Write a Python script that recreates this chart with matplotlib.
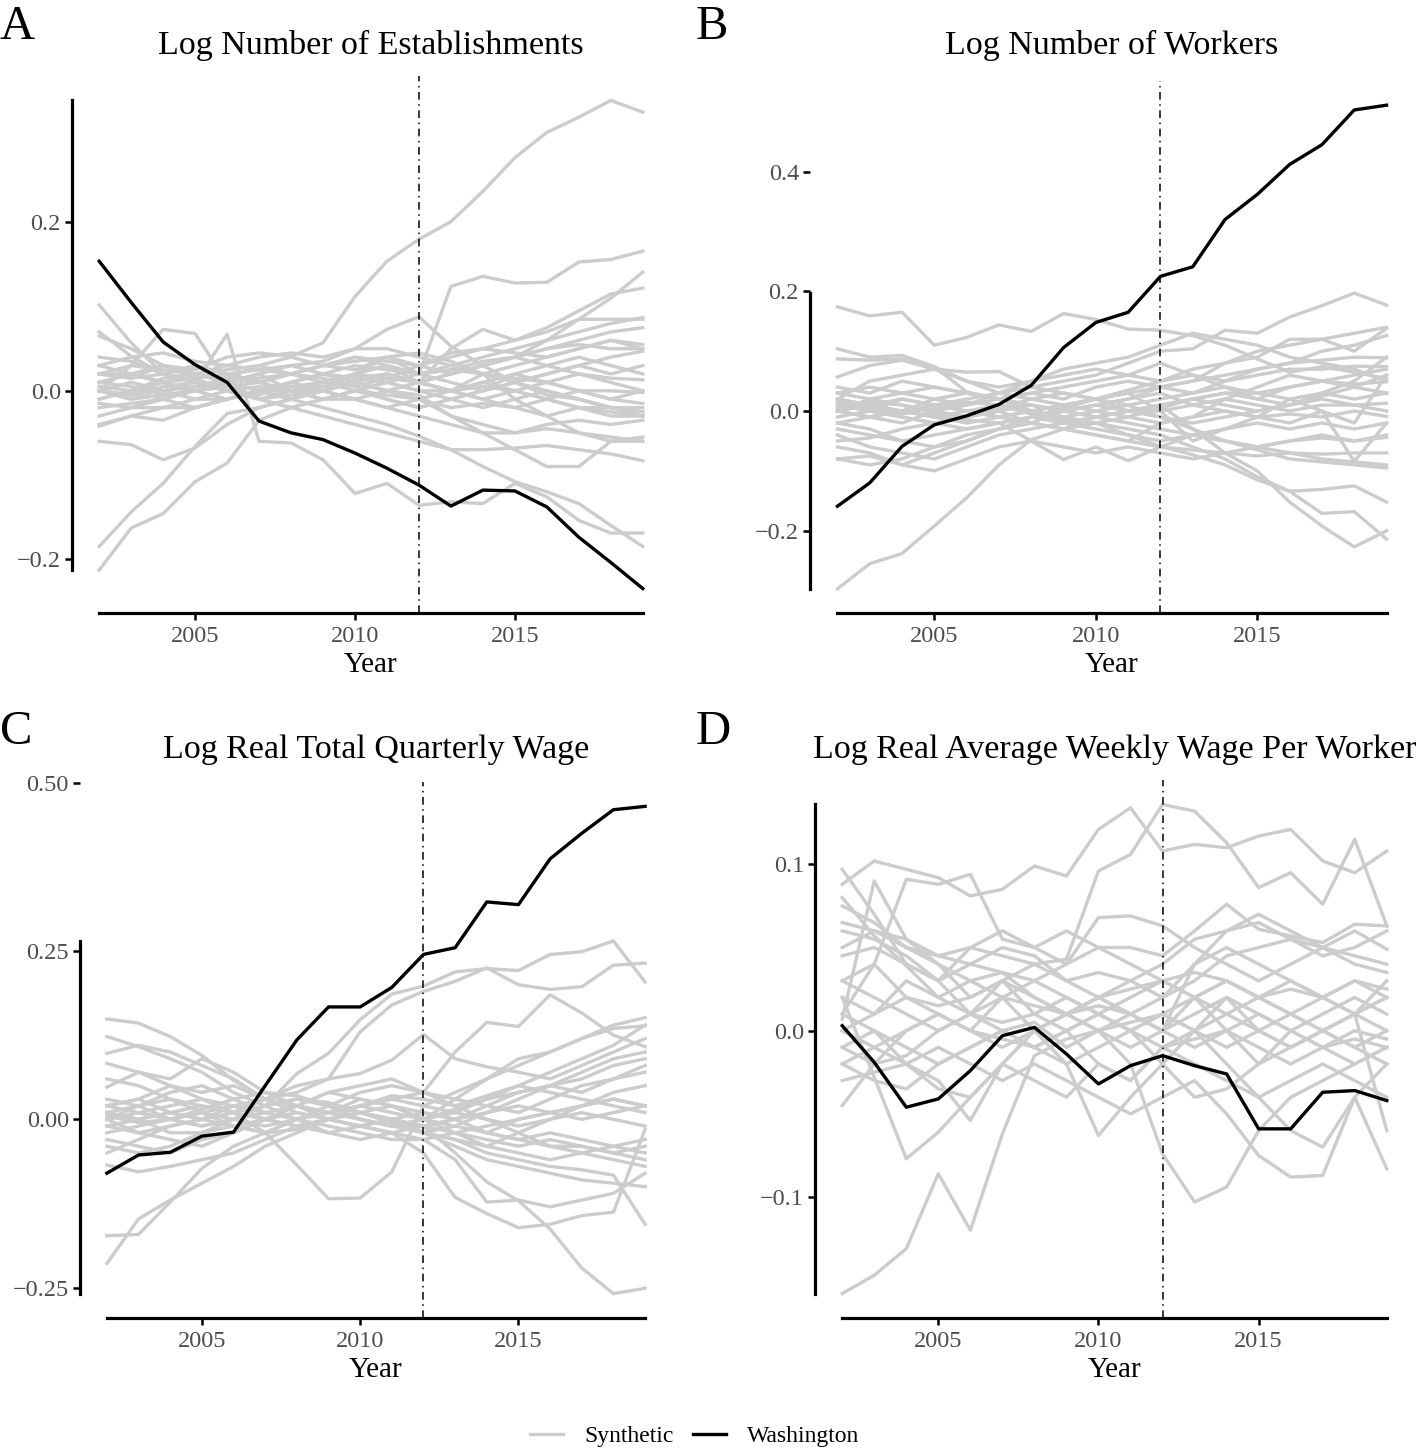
import numpy as np
import matplotlib
matplotlib.use("Agg")
import matplotlib.pyplot as plt
from matplotlib.lines import Line2D

plt.rcParams["font.family"] = ["Liberation Serif", "DejaVu Serif"]

years = list(range(2002, 2020))
treat_year = 2012

titles = ["Log Number of Establishments", "Log Number of Workers",
          "Log Real Total Quarterly Wage", "Log Real Average Weekly Wage Per Worker"]
letters = ["A", "B", "C", "D"]
yticks = [[-0.2, 0.0, 0.2], [-0.2, 0.0, 0.2, 0.4],
          [-0.25, 0.0, 0.25, 0.5], [-0.1, 0.0, 0.1]]

# Washington (treated) series
estab_wa = [0.154, 0.105, 0.058, 0.031, 0.01, -0.036, -0.05, -0.058, -0.074, -0.092,
            -0.112, -0.137, -0.118, -0.119, -0.138, -0.174, -0.204, -0.235]
workers_wa = [-0.159, -0.12, -0.059, -0.023, -0.008, 0.011, 0.043, 0.106, 0.148, 0.165,
              0.225, 0.241, 0.32, 0.362, 0.412, 0.445, 0.503, 0.511]
totwage_wa = [-0.08, -0.053, -0.049, -0.025, -0.019, 0.05, 0.118, 0.167, 0.167, 0.196,
              0.245, 0.255, 0.323, 0.319, 0.387, 0.425, 0.46, 0.465]
weekwage_wa = [0.003, -0.019, -0.046, -0.041, -0.024, -0.003, 0.002, -0.014, -0.032, -0.021,
               -0.015, -0.021, -0.026, -0.059, -0.059, -0.037, -0.036, -0.042]

# placebo / synthetic series (approximate)
estab_synth = [
    [0.02, 0.015, 0.03, 0.025, 0.04, 0.045, 0.041, 0.057, 0.112, 0.154, 0.18, 0.201, 0.237, 0.277, 0.307, 0.325, 0.345, 0.331],
    [0.0, 0.01, 0.0, 0.005, 0.01, 0.0, 0.01, 0.02, 0.03, 0.025, 0.02, 0.124, 0.136, 0.128, 0.129, 0.153, 0.156, 0.166],
    [0.03, 0.04, 0.045, 0.035, 0.03, 0.025, 0.03, 0.035, 0.05, 0.073, 0.088, 0.053, 0.03, 0.01, -0.005, -0.01, -0.02, -0.025],
    [0.0, -0.01, 0.005, 0.01, 0.0, -0.005, 0.01, 0.02, 0.015, 0.02, 0.01, 0.02, 0.03, 0.04, 0.06, 0.085, 0.11, 0.141],
    [0.02, 0.015, 0.02, 0.03, 0.02, 0.025, 0.02, 0.03, 0.04, 0.035, 0.03, 0.045, 0.05, 0.06, 0.075, 0.095, 0.115, 0.122],
    [-0.01, 0.0, 0.01, 0.0, 0.005, 0.01, 0.0, 0.01, 0.02, 0.03, 0.01, 0.05, 0.073, 0.06, 0.07, 0.085, 0.085, 0.085],
    [0.01, 0.005, -0.005, 0.0, 0.01, 0.02, 0.03, 0.02, 0.015, 0.01, 0.02, 0.025, 0.035, 0.04, 0.05, 0.06, 0.07, 0.075],
    [-0.02, -0.015, -0.01, 0.0, -0.01, 0.0, 0.01, 0.0, 0.01, 0.02, 0.01, 0.02, 0.03, 0.04, 0.05, 0.055, 0.05, 0.05],
    [0.02, 0.03, 0.025, 0.02, 0.015, 0.03, 0.04, 0.03, 0.035, 0.04, 0.02, 0.01, 0.0, 0.01, 0.02, 0.03, 0.04, 0.047],
    [0.0, -0.005, 0.01, 0.015, 0.02, 0.01, 0.0, 0.01, 0.02, 0.03, 0.02, 0.025, 0.02, 0.015, 0.01, 0.02, 0.015, 0.013],
    [-0.03, -0.02, -0.02, -0.01, -0.01, 0.0, 0.0, -0.01, 0.0, 0.01, 0.0, 0.0, 0.01, 0.0, -0.01, 0.0, 0.0, -0.002],
    [0.01, 0.02, 0.01, 0.0, 0.005, -0.01, -0.02, -0.01, 0.0, -0.005, -0.01, -0.02, -0.015, -0.02, -0.01, -0.02, -0.02, -0.025],
    [-0.01, 0.0, -0.01, -0.02, -0.01, 0.0, 0.01, 0.02, 0.01, 0.0, 0.01, 0.0, -0.01, -0.02, -0.03, -0.02, -0.03, -0.03],
    [0.03, 0.02, 0.01, 0.0, 0.01, 0.02, 0.0, -0.01, -0.01, -0.02, -0.01, -0.03, -0.04, -0.05, -0.04, -0.035, -0.04, -0.035],
    [0.0, 0.01, 0.0, -0.01, 0.0, 0.005, 0.0, 0.005, 0.01, 0.0, -0.005, -0.03, -0.05, -0.07, -0.09, -0.09, -0.06, -0.055],
    [-0.04, -0.03, -0.02, -0.02, -0.01, 0.0, 0.0, 0.0, -0.01, -0.02, -0.03, -0.04, -0.05, -0.05, -0.045, -0.05, -0.055, -0.06],
    [0.0, -0.01, -0.005, 0.0, 0.01, -0.01, -0.02, -0.03, -0.04, -0.05, -0.06, -0.07, -0.07, -0.068, -0.065, -0.07, -0.075, -0.083],
    [0.0, -0.005, 0.0, 0.01, 0.067, -0.06, -0.062, -0.082, -0.122, -0.11, -0.136, -0.132, -0.134, -0.11, -0.126, -0.154, -0.169, -0.169],
    [0.01, 0.02, 0.01, 0.02, 0.01, 0.0, -0.01, -0.02, -0.03, -0.04, -0.054, -0.07, -0.09, -0.108, -0.12, -0.134, -0.16, -0.185],
    [-0.213, -0.163, -0.146, -0.108, -0.086, -0.035, -0.02, -0.01, 0.0, 0.01, 0.0, -0.01, -0.02, -0.01, 0.0, -0.01, -0.02, -0.03],
    [-0.185, -0.144, -0.11, -0.066, -0.027, -0.02, -0.01, 0.0, 0.01, 0.02, 0.01, 0.0, 0.02, 0.03, 0.04, 0.05, 0.06, 0.05],
    [0.102, 0.057, 0.02, 0.01, 0.0, -0.01, 0.0, 0.01, 0.0, -0.01, -0.02, -0.01, 0.0, 0.01, 0.0, -0.01, -0.02, -0.02],
    [0.07, 0.041, 0.02, 0.03, 0.02, 0.01, 0.02, 0.03, 0.04, 0.03, 0.02, 0.03, 0.02, 0.01, 0.02, 0.03, 0.02, 0.03],
    [0.0, 0.03, 0.073, 0.068, 0.01, 0.0, -0.01, 0.0, 0.01, 0.0, -0.01, 0.0, 0.01, 0.02, 0.01, 0.0, -0.01, 0.0],
    [-0.06, -0.064, -0.082, -0.068, -0.04, -0.02, -0.01, 0.0, -0.01, 0.0, 0.01, 0.0, -0.01, 0.0, 0.01, 0.0, -0.01, -0.015],
    [-0.042, -0.03, -0.035, -0.02, -0.01, 0.0, 0.005, 0.01, 0.02, 0.015, 0.01, 0.0, 0.005, 0.0, -0.01, -0.02, -0.025, -0.03],
    [0.065, 0.05, 0.03, 0.02, 0.01, 0.015, 0.02, 0.03, 0.025, 0.04, 0.03, 0.02, 0.03, 0.04, 0.03, 0.02, 0.01, 0.0],
    [0.02, 0.02, 0.03, 0.02, 0.03, 0.04, 0.045, 0.04, 0.05, 0.05, 0.04, 0.03, 0.04, 0.05, 0.06, 0.07, 0.08, 0.087],
    [-0.015, -0.02, -0.01, 0.005, 0.015, 0.01, 0.02, 0.015, 0.005, -0.01, -0.02, -0.01, 0.0, 0.02, 0.03, 0.04, 0.03, 0.02],
    [0.04, 0.035, 0.02, 0.015, 0.0, -0.01, -0.005, 0.0, 0.02, 0.04, 0.045, 0.035, 0.02, -0.01, -0.03, -0.05, -0.06, -0.06],
    [0.005, 0.0, 0.015, 0.02, 0.025, 0.03, 0.02, 0.01, 0.005, 0.015, 0.03, 0.04, 0.05, 0.045, 0.04, 0.05, 0.06, 0.055],
]

workers_synth = [
    [0.174, 0.159, 0.165, 0.11, 0.123, 0.144, 0.133, 0.163, 0.153, 0.137, 0.135, 0.126, 0.11, 0.087, 0.065, 0.074, 0.065, 0.054],
    [-0.297, -0.255, -0.238, -0.192, -0.145, -0.09, -0.048, -0.03, -0.01, 0.0, 0.01, 0.02, 0.03, 0.02, 0.04, 0.05, 0.06, 0.07],
    [0.0, 0.01, 0.02, 0.01, 0.02, 0.03, 0.04, 0.05, 0.06, 0.08, 0.1, 0.104, 0.135, 0.13, 0.157, 0.176, 0.197, 0.177],
    [0.02, 0.01, 0.0, -0.01, 0.0, 0.01, 0.0, -0.01, -0.02, -0.04, -0.059, -0.073, -0.09, -0.115, -0.134, -0.131, -0.125, -0.152],
    [0.0, -0.01, 0.0, 0.01, 0.0, -0.01, -0.02, -0.03, -0.02, -0.03, -0.04, -0.06, -0.08, -0.11, -0.134, -0.171, -0.168, -0.214],
    [0.01, 0.0, -0.01, -0.02, -0.01, 0.0, 0.01, 0.0, -0.01, 0.0, 0.01, -0.03, -0.07, -0.1, -0.152, -0.192, -0.227, -0.2],
    [0.03, 0.02, 0.03, 0.04, 0.03, 0.02, 0.01, 0.0, 0.01, 0.02, 0.03, 0.01, 0.0, -0.01, -0.02, 0.0, -0.084, -0.02],
    [-0.03, -0.04, -0.05, -0.04, -0.03, -0.02, -0.05, -0.081, -0.06, -0.083, -0.06, -0.04, -0.05, -0.06, -0.05, -0.04, -0.05, -0.04],
    [0.104, 0.09, 0.093, 0.074, 0.032, 0.02, 0.01, 0.0, -0.01, -0.02, -0.03, -0.04, -0.05, -0.06, -0.07, -0.08, -0.085, -0.09],
    [0.087, 0.085, 0.087, 0.074, 0.05, 0.03, 0.02, 0.01, 0.02, 0.0, -0.01, -0.02, -0.01, 0.0, 0.01, 0.02, 0.01, 0.0],
    [0.057, 0.076, 0.085, 0.07, 0.05, 0.04, 0.05, 0.06, 0.07, 0.06, 0.05, 0.07, 0.08, 0.1, 0.11, 0.12, 0.13, 0.14],
    [0.02, 0.05, 0.06, 0.07, 0.065, 0.066, 0.04, 0.03, 0.02, 0.03, 0.04, 0.05, 0.06, 0.07, 0.08, 0.1, 0.11, 0.126],
    [0.0, -0.01, -0.02, 0.0, 0.01, 0.02, 0.03, 0.04, 0.05, 0.06, 0.08, 0.06, 0.05, 0.07, 0.08, 0.085, 0.09, 0.089],
    [-0.02, -0.03, -0.05, -0.06, -0.05, -0.03, -0.01, 0.0, 0.01, 0.02, 0.04, 0.03, 0.05, 0.06, 0.07, 0.07, 0.075, 0.074],
    [-0.04, -0.06, -0.07, -0.08, -0.06, -0.04, -0.03, -0.02, -0.01, 0.0, 0.01, 0.02, 0.03, 0.03, 0.04, 0.05, 0.045, 0.049],
    [-0.08, -0.075, -0.09, -0.07, -0.05, -0.03, -0.02, 0.0, 0.01, 0.0, 0.0, 0.01, 0.02, 0.01, 0.0, 0.01, 0.01, 0.013],
    [0.01, 0.0, 0.02, 0.01, 0.0, -0.01, 0.0, 0.01, 0.0, -0.01, -0.02, -0.01, 0.0, -0.01, -0.005, -0.01, 0.0, -0.009],
    [-0.01, 0.0, -0.01, -0.02, -0.03, -0.02, -0.01, -0.02, -0.03, -0.04, -0.05, -0.04, -0.03, -0.02, -0.03, -0.02, -0.03, -0.02],
    [0.0, 0.02, 0.01, 0.0, -0.01, 0.0, -0.02, -0.03, -0.04, -0.05, -0.06, -0.065, -0.07, -0.06, -0.05, -0.045, -0.05, -0.044],
    [-0.06, -0.07, -0.09, -0.1, -0.08, -0.06, -0.05, -0.06, -0.07, -0.06, -0.07, -0.08, -0.07, -0.075, -0.07, -0.072, -0.07, -0.07],
    [-0.08, -0.09, -0.08, -0.06, -0.04, -0.03, -0.02, -0.03, -0.04, -0.05, -0.02, -0.01, 0.02, 0.04, 0.06, 0.05, 0.04, 0.06],
    [0.03, 0.04, 0.03, 0.02, 0.01, 0.03, 0.05, 0.07, 0.08, 0.09, 0.11, 0.13, 0.12, 0.11, 0.09, 0.08, 0.07, 0.05],
    [0.04, 0.03, 0.05, 0.04, 0.03, 0.02, 0.03, 0.02, 0.04, 0.05, 0.04, 0.05, 0.08, 0.09, 0.12, 0.12, 0.1, 0.138],
    [-0.02, -0.01, 0.0, -0.01, -0.02, -0.01, 0.0, 0.01, 0.02, 0.03, 0.0, -0.05, -0.03, -0.01, 0.02, 0.03, 0.02, 0.03],
    [0.02, 0.01, 0.0, 0.02, 0.03, 0.02, 0.0, -0.01, 0.0, 0.01, 0.02, 0.03, 0.04, 0.03, 0.02, 0.0, -0.02, 0.06],
    [0.005, 0.015, 0.01, -0.005, -0.015, -0.02, -0.01, 0.005, 0.02, 0.035, 0.05, 0.06, 0.04, 0.02, 0.01, 0.03, 0.05, 0.09],
    [-0.05, -0.045, -0.03, -0.02, -0.01, 0.005, 0.02, 0.03, 0.02, 0.01, -0.01, -0.03, -0.05, -0.065, -0.08, -0.085, -0.09, -0.095],
    [0.015, 0.005, -0.005, 0.005, 0.015, 0.01, -0.005, -0.015, -0.02, -0.01, 0.005, 0.02, 0.01, 0.0, 0.01, 0.025, 0.04, 0.03],
]

totwage_synth = [
    [0.0, 0.01, 0.0, -0.01, 0.0, 0.02, 0.068, 0.098, 0.148, 0.186, 0.198, 0.219, 0.224, 0.221, 0.245, 0.249, 0.265, 0.204],
    [0.01, 0.0, 0.01, 0.02, 0.01, 0.03, 0.04, 0.06, 0.13, 0.17, 0.19, 0.205, 0.225, 0.2, 0.193, 0.197, 0.229, 0.232],
    [-0.02, -0.01, 0.0, 0.01, 0.0, -0.01, 0.0, 0.01, 0.02, 0.03, 0.04, 0.1, 0.144, 0.138, 0.185, 0.158, 0.125, 0.108],
    [0.02, 0.03, 0.01, 0.0, 0.01, 0.03, 0.05, 0.06, 0.068, 0.088, 0.126, 0.09, 0.078, 0.07, 0.06, 0.08, 0.1, 0.12],
    [0.0, -0.02, -0.01, 0.0, 0.02, 0.03, 0.02, 0.01, 0.02, 0.01, 0.0, 0.03, 0.06, 0.09, 0.1, 0.12, 0.14, 0.151],
    [0.01, 0.02, 0.03, 0.02, 0.01, 0.0, -0.01, 0.0, 0.01, 0.0, -0.01, -0.05, -0.093, -0.121, -0.163, -0.221, -0.259, -0.251],
    [0.03, 0.02, 0.0, -0.01, 0.0, 0.01, 0.02, 0.01, 0.0, -0.01, -0.02, -0.03, -0.05, -0.06, -0.07, -0.075, -0.083, -0.156],
    [0.0, 0.01, 0.02, 0.03, 0.01, -0.02, -0.068, -0.118, -0.117, -0.078, 0.02, 0.01, 0.0, -0.01, 0.0, 0.01, 0.0, -0.01],
    [-0.01, 0.0, 0.01, 0.0, -0.01, 0.0, 0.01, 0.0, -0.01, -0.02, -0.05, -0.116, -0.14, -0.161, -0.156, -0.143, -0.138, -0.015],
    [0.02, 0.01, 0.0, 0.01, 0.02, 0.01, 0.0, -0.01, -0.02, -0.03, -0.03, -0.06, -0.123, -0.12, -0.13, -0.12, -0.11, -0.08],
    [-0.214, -0.148, -0.12, -0.095, -0.07, -0.04, -0.02, 0.0, 0.01, 0.02, 0.0, -0.01, -0.02, 0.0, 0.01, 0.02, 0.03, 0.02],
    [-0.173, -0.171, -0.123, -0.073, -0.04, -0.02, 0.0, 0.01, 0.0, -0.01, 0.0, 0.01, 0.03, 0.04, 0.05, 0.04, 0.06, 0.07],
    [0.149, 0.143, 0.123, 0.095, 0.058, 0.03, 0.01, 0.0, -0.01, 0.0, 0.01, 0.0, -0.02, -0.03, -0.04, -0.05, -0.04, -0.05],
    [0.123, 0.108, 0.09, 0.07, 0.04, 0.02, 0.0, -0.02, -0.03, -0.02, -0.01, 0.0, 0.01, 0.02, 0.01, 0.0, 0.01, 0.02],
    [0.098, 0.11, 0.1, 0.08, 0.06, 0.03, 0.02, 0.01, 0.02, 0.03, 0.02, 0.04, 0.06, 0.08, 0.1, 0.12, 0.135, 0.139],
    [0.083, 0.07, 0.06, 0.09, 0.07, 0.04, 0.02, 0.04, 0.05, 0.06, 0.04, 0.03, 0.02, 0.04, 0.05, 0.06, 0.08, 0.09],
    [0.048, 0.07, 0.05, 0.03, 0.02, 0.0, -0.01, -0.02, -0.01, 0.0, -0.02, -0.03, -0.04, -0.02, 0.0, 0.02, 0.03, 0.02],
    [-0.068, -0.078, -0.07, -0.06, -0.05, -0.03, -0.01, 0.0, 0.01, 0.0, -0.01, -0.02, -0.04, -0.05, -0.06, -0.05, -0.06, -0.07],
    [-0.03, -0.04, -0.05, -0.03, -0.02, 0.0, 0.02, 0.01, 0.03, 0.02, 0.0, -0.02, -0.01, 0.0, 0.01, 0.02, 0.04, 0.05],
    [0.0, 0.02, 0.04, 0.05, 0.03, 0.01, 0.0, 0.02, 0.01, 0.0, -0.02, -0.01, 0.01, 0.03, 0.05, 0.07, 0.09, 0.1],
    [-0.01, -0.02, -0.03, -0.04, -0.02, 0.0, 0.02, 0.04, 0.03, 0.02, 0.01, 0.0, -0.02, -0.03, -0.02, -0.03, -0.04, -0.03],
    [0.01, 0.0, -0.02, -0.02, 0.0, 0.02, 0.03, 0.02, 0.0, -0.01, -0.01, 0.0, 0.02, 0.01, 0.03, 0.05, 0.06, 0.08],
    [-0.04, -0.05, -0.04, -0.02, -0.01, -0.02, 0.0, 0.02, 0.04, 0.05, 0.04, 0.02, 0.0, -0.02, -0.04, -0.04, -0.05, -0.06],
    [0.02, 0.03, 0.05, 0.04, 0.05, 0.03, 0.02, 0.0, -0.01, -0.02, -0.03, -0.02, -0.03, -0.04, -0.03, -0.04, -0.05, -0.04],
    [0.06, 0.05, 0.03, 0.01, -0.01, -0.02, -0.015, 0.0, 0.02, 0.035, 0.03, 0.02, 0.035, 0.05, 0.04, 0.03, 0.02, 0.01],
    [-0.05, -0.03, -0.01, 0.0, 0.01, 0.02, 0.03, 0.025, 0.01, -0.005, -0.02, -0.04, -0.06, -0.07, -0.08, -0.09, -0.095, -0.1],
    [0.005, -0.005, 0.0, 0.015, 0.03, 0.04, 0.035, 0.02, 0.0, -0.01, 0.0, 0.015, 0.03, 0.05, 0.07, 0.09, 0.11, 0.14],
]

weekwage_synth = [
    [-0.158, -0.147, -0.131, -0.086, -0.12, -0.062, -0.015, -0.005, 0.0, 0.005, 0.01, 0.0, -0.01, 0.0, 0.01, 0.0, -0.01, 0.0],
    [0.088, 0.102, 0.097, 0.092, 0.081, 0.085, 0.099, 0.093, 0.121, 0.134, 0.108, 0.112, 0.11, 0.117, 0.121, 0.102, 0.095, 0.108],
    [0.02, 0.01, 0.03, 0.02, 0.01, 0.03, 0.04, 0.043, 0.096, 0.106, 0.136, 0.132, 0.113, 0.086, 0.095, 0.076, 0.115, 0.063],
    [0.097, 0.07, 0.04, 0.03, 0.01, 0.0, 0.005, -0.01, 0.0, 0.01, 0.0, -0.01, 0.0, 0.01, 0.0, -0.01, 0.0, -0.005],
    [0.007, 0.09, 0.055, 0.04, 0.02, 0.03, 0.01, 0.0, -0.02, -0.03, -0.01, 0.0, 0.02, 0.01, 0.0, -0.01, -0.02, -0.01],
    [0.08, 0.057, 0.039, 0.02, 0.03, 0.035, 0.02, 0.01, 0.015, 0.01, 0.02, 0.04, 0.05, 0.04, 0.03, 0.02, 0.03, 0.025],
    [0.01, 0.04, 0.091, 0.088, 0.094, 0.055, 0.05, 0.06, 0.05, 0.04, 0.03, 0.02, 0.01, 0.0, -0.01, 0.0, 0.01, 0.0],
    [0.0, 0.01, 0.02, 0.01, 0.0, 0.02, 0.03, 0.04, 0.05, 0.05, 0.045, 0.06, 0.076, 0.061, 0.057, 0.053, 0.064, 0.063],
    [0.05, 0.06, 0.055, 0.045, 0.05, 0.06, 0.05, 0.04, 0.068, 0.069, 0.063, 0.05, 0.04, 0.03, 0.04, 0.05, 0.06, 0.049],
    [-0.02, -0.01, 0.0, 0.01, 0.0, -0.01, 0.0, 0.01, 0.0, -0.02, -0.074, -0.103, -0.094, -0.06, -0.04, -0.03, -0.02, -0.01],
    [0.0, -0.01, -0.02, -0.01, -0.02, -0.03, -0.02, -0.03, -0.04, -0.05, -0.04, -0.03, -0.05, -0.075, -0.088, -0.087, -0.04, -0.02],
    [0.01, 0.0, -0.01, -0.02, -0.01, 0.0, -0.01, -0.02, -0.01, 0.0, 0.01, 0.0, -0.02, -0.04, -0.06, -0.07, -0.04, -0.083],
    [0.02, -0.028, -0.077, -0.061, -0.04, -0.02, 0.0, 0.01, 0.02, 0.01, 0.0, 0.01, 0.02, 0.0, -0.01, 0.0, 0.01, 0.02],
    [-0.01, 0.0, -0.02, -0.03, -0.054, -0.02, 0.0, 0.01, 0.0, -0.01, 0.0, 0.02, 0.03, 0.02, 0.01, 0.0, -0.01, -0.02],
    [0.03, 0.02, 0.01, 0.0, 0.01, 0.02, 0.0, -0.02, -0.063, -0.04, -0.02, 0.0, 0.01, 0.02, 0.03, 0.02, 0.01, -0.06],
    [0.065, 0.06, 0.05, 0.045, 0.04, 0.035, 0.03, 0.02, 0.01, 0.0, 0.01, 0.02, 0.03, 0.02, 0.01, 0.02, 0.01, 0.03],
    [0.045, 0.05, 0.04, 0.03, 0.05, 0.045, 0.04, 0.03, 0.035, 0.03, 0.02, 0.03, 0.045, 0.05, 0.055, 0.05, 0.045, 0.04],
    [-0.03, -0.025, -0.02, -0.035, -0.04, -0.02, -0.03, -0.04, -0.02, -0.03, -0.01, -0.02, -0.03, -0.04, -0.03, -0.02, -0.03, -0.04],
    [0.03, 0.04, 0.02, 0.015, 0.02, 0.03, 0.02, 0.01, 0.02, 0.025, 0.03, 0.035, 0.03, 0.02, 0.025, 0.02, 0.03, 0.02],
    [-0.01, -0.02, -0.015, 0.0, 0.01, 0.005, 0.01, 0.02, 0.01, 0.0, -0.01, -0.005, 0.0, -0.01, -0.02, -0.01, -0.005, -0.01],
    [0.06, 0.055, 0.045, 0.03, 0.04, 0.05, 0.045, 0.03, 0.02, 0.01, 0.0, 0.04, 0.06, 0.07, 0.06, 0.05, 0.04, 0.035],
    [-0.02, -0.03, -0.035, -0.02, -0.01, 0.0, -0.01, 0.0, 0.01, 0.0, -0.02, -0.04, -0.035, -0.02, 0.0, 0.01, 0.02, 0.01],
    [0.075, 0.065, 0.05, 0.04, 0.03, 0.02, 0.015, 0.01, 0.02, 0.03, 0.04, 0.055, 0.06, 0.065, 0.055, 0.045, 0.05, 0.06],
    [-0.045, -0.02, 0.0, 0.01, 0.0, -0.005, -0.01, 0.0, 0.01, 0.02, 0.03, 0.02, 0.0, -0.02, -0.01, 0.0, 0.01, 0.02],
]

synth_all = [estab_synth, workers_synth, totwage_synth, weekwage_synth]
wa_all = [estab_wa, workers_wa, totwage_wa, weekwage_wa]

W, H = 1418, 1449
# axes boxes in pixels: left, top, right, bottom
boxes = [(72, 76, 670, 613), (810, 81, 1414, 613),
         (80, 782, 672, 1318), (815, 780, 1414, 1318)]
title_y = [45, 45, 750, 750]

GREY = "#CCCCCC"
TXT = "#4D4D4D"
LW = 2.4

fig = plt.figure(figsize=(W / 100, H / 100), dpi=100)

for i in range(4):
    l, t, r, b = boxes[i]
    ax = fig.add_axes([l / W, 1 - b / H, (r - l) / W, (b - t) / H])
    synth = np.array(synth_all[i])
    wa = np.array(wa_all[i])

    for row in synth:
        ax.plot(years, row, color=GREY, lw=LW, zorder=2)
    ax.plot(years, wa, color="black", lw=LW, zorder=3)
    ax.axvline(treat_year, color="black", lw=1.1, linestyle=(0, (5, 3, 1, 3)), zorder=4)

    # ggplot-style 5% expansion
    x0, x1 = years[0], years[-1]
    dx = (x1 - x0) * 0.05
    ax.set_xlim(x0 - dx, x1 + dx)
    lo = min(synth.min(), wa.min())
    hi = max(synth.max(), wa.max())
    dy = (hi - lo) * 0.05
    ax.set_ylim(lo - dy, hi + dy)

    # range frame: y axis spans only the synthetic lines
    for s in ["top", "right"]:
        ax.spines[s].set_visible(False)
    ax.spines["left"].set_bounds(synth.min(), synth.max())
    ax.spines["bottom"].set_bounds(x0, x1)
    ax.spines["left"].set_linewidth(2.3)
    ax.spines["bottom"].set_linewidth(2.3)

    ax.set_xticks([2005, 2010, 2015])
    ax.set_yticks(yticks[i])
    ax.tick_params(length=5, width=1.8, color="black", labelsize=17.5,
                   labelcolor=TXT, pad=3)
    ax.tick_params(axis="x", pad=4.5)
    ax.set_xlabel("Year", fontsize=21, labelpad=3.5)

    cx = (l + r) / 2
    fig.text(cx / W, 1 - title_y[i] / H, titles[i], fontsize=24.5,
             ha="center", va="center")
    fig.text((0 if i % 2 == 0 else 696) / W, 1 - (title_y[i] - 40) / H, letters[i],
             fontsize=35, ha="left", va="top")

handles = [Line2D([], [], color=GREY, lw=LW), Line2D([], [], color="black", lw=LW)]
fig.legend(handles, ["Synthetic", "Washington"], loc="center",
           bbox_to_anchor=(0.49, 1 - 1436 / H), ncol=2, frameon=False,
           fontsize=17, handlelength=1.4, handletextpad=0.9, columnspacing=0.8)

fig.savefig("out.png", dpi=100)
